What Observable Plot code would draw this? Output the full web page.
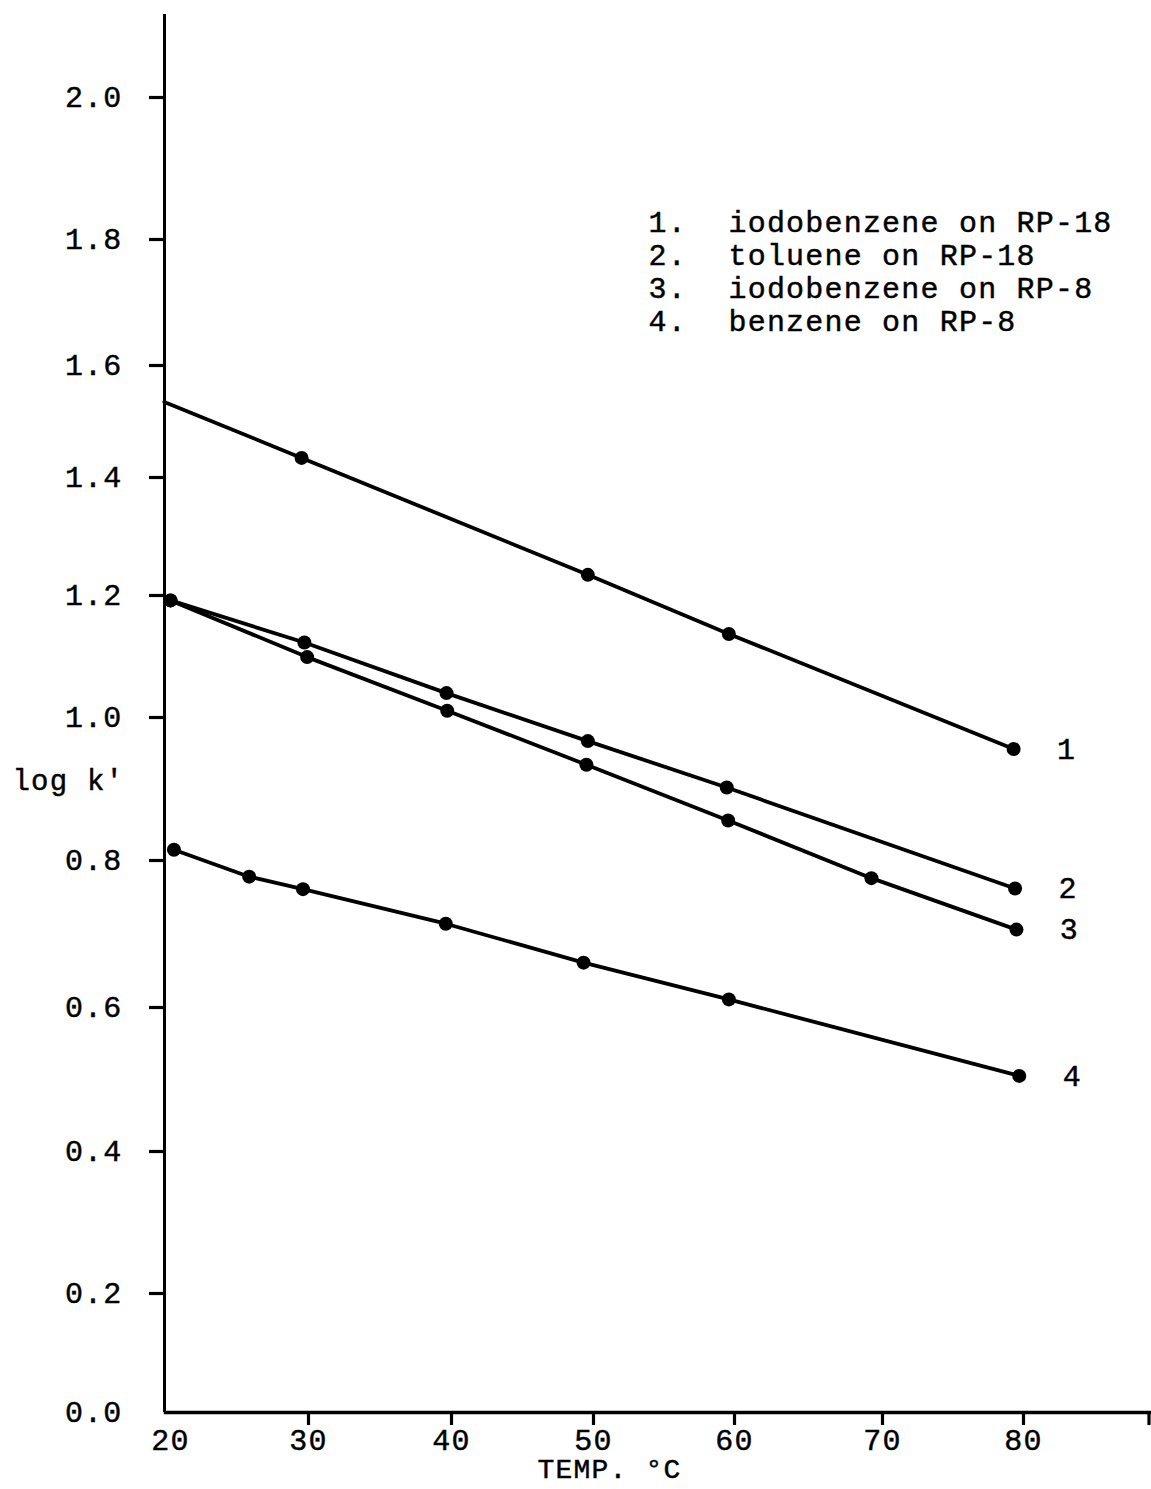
<!DOCTYPE html>
<html>
<head>
<meta charset="utf-8">
<script src="https://cdn.jsdelivr.net/npm/d3@7"></script>
<script src="https://cdn.jsdelivr.net/npm/@observablehq/plot@0.6"></script>
<style>
  html, body { margin: 0; padding: 0; background: #fff; }
  svg text { letter-spacing: 1.2px; stroke: #000; stroke-width: 0.45px; }
</style>
</head>
<body>
<div id="chart"></div>
<script>
// ---- tick labels ----
const xTicks = [20, 30, 40, 50, 60, 70, 80];
const xAxisEnd = 88.9;
const yTicks = [0.0, 0.2, 0.4, 0.6, 0.8, 1.0, 1.2, 1.4, 1.6, 1.8, 2.0];
const yAxisTop = 2.117;

// ---- labels ----
const seriesLabels = ["1", "2", "3", "4"];
const legendNumbers = ["1.", "2.", "3.", "4."];
const legendNames = ["iodobenzene on RP-18", "toluene on RP-18", "iodobenzene on RP-8", "benzene on RP-8"];
const xLabel = "TEMP. °C";
const yLabel = "log k'";

// ---- series values (temperature °C, log k') ----
const s1Temp = [29.5, 49.6, 59.6, 79.3];
const s1LogK = [1.435, 1.235, 1.137, 0.956];
const s1LineStartTemp = 19.55;   // line 1 is drawn from the axis
const s1LineStartLogK = 1.535;

const s2Temp = [20.0, 29.7, 39.65, 49.6, 59.45, 79.4];
const s2LogK = [1.192, 1.123, 1.040, 0.967, 0.902, 0.762];

const s3Temp = [20.0, 29.9, 39.7, 49.5, 59.55, 69.25, 79.5];
const s3LogK = [1.192, 1.099, 1.011, 0.934, 0.856, 0.776, 0.706];

const s4Temp = [20.25, 25.7, 29.6, 39.6, 49.3, 59.6, 79.7];
const s4LogK = [0.815, 0.778, 0.761, 0.714, 0.661, 0.611, 0.505];

// ---- tables built from the arrays ----
const seriesTemps = [s1Temp, s2Temp, s3Temp, s4Temp];
const seriesLogKs = [s1LogK, s2LogK, s3LogK, s4LogK];
const points = [];
seriesTemps.forEach((temps, i) => {
  temps.forEach((t, j) => points.push({series: seriesLabels[i], temp: t, logk: seriesLogKs[i][j]}));
});
const linePoints = [{series: "1", temp: s1LineStartTemp, logk: s1LineStartLogK}, ...points];
const lastPoints = seriesLabels.map(s => {
  const p = points.filter(d => d.series === s);
  return p[p.length - 1];
});

const font = "'Liberation Mono', 'DejaVu Sans Mono', monospace";

const chart = Plot.plot({
  width: 1151,
  height: 1489,
  marginLeft: 164,
  marginTop: 0,
  marginRight: 0,
  marginBottom: 77,
  style: {fontFamily: font, fontSize: "30px", background: "#fff", color: "#000"},
  x: {type: "linear", domain: xTicks, range: [170, 308, 451, 593, 734, 882, 1023]},
  y: {type: "linear", domain: yTicks, range: [1412, 1293, 1151, 1007, 860, 717, 595, 477, 365, 239, 97]},
  marks: [
    // axis lines
    Plot.ruleX([xTicks[0]], {x: d => d, y1: yTicks[0], y2: yAxisTop, dx: -6, stroke: "#000", strokeWidth: 3}),
    Plot.ruleY([yTicks[0]], {y: d => d, x1: s1LineStartTemp, x2: xAxisEnd + 0.2, stroke: "#000", strokeWidth: 3.4}),
    // y tick marks and labels
    Plot.axisY({ticks: yTicks.slice(1), tickSize: 15, tickFormat: () => "", label: null, strokeWidth: 3.2}),
    Plot.axisY({ticks: yTicks, tickSize: 0, tickPadding: 42, tickFormat: d3.format(".1f"), label: null, fontSize: 30}),
    // x tick marks and labels
    Plot.axisX({ticks: [...xTicks.slice(1), xAxisEnd], tickSize: 13, tickFormat: () => "", label: null, strokeWidth: 3.2}),
    Plot.axisX({ticks: xTicks, tickSize: 0, tickPadding: 16, tickFormat: d => String(d), label: null, fontSize: 30}),
    // data
    Plot.line(linePoints, {x: "temp", y: "logk", z: "series", stroke: "#000", strokeWidth: 3.8}),
    Plot.dot(points, {x: "temp", y: "logk", r: 7, fill: "#000", stroke: "none"}),
    Plot.text(lastPoints, {x: "temp", y: "logk", text: "series", dx: 53, textAnchor: "middle", fontSize: 30}),
    // legend
    Plot.text([legendNumbers.join("\n")], {text: d => d, frameAnchor: "top-left", dx: 484, dy: 208, textAnchor: "start", lineAnchor: "top", lineHeight: 1.1, fontSize: 30}),
    Plot.text([legendNames.join("\n")], {text: d => d, frameAnchor: "top-left", dx: 564, dy: 208, textAnchor: "start", lineAnchor: "top", lineHeight: 1.1, fontSize: 30}),
    // axis titles
    Plot.text([yLabel], {text: d => d, frameAnchor: "top-left", dx: -152, dy: 780, textAnchor: "start", lineAnchor: "middle", fontSize: 29}),
    Plot.text([xLabel], {text: d => d, frameAnchor: "bottom-left", dx: 373, dy: 57, textAnchor: "start", lineAnchor: "middle", fontSize: 28})
  ]
});
document.getElementById("chart").appendChild(chart);
</script>
</body>
</html>
